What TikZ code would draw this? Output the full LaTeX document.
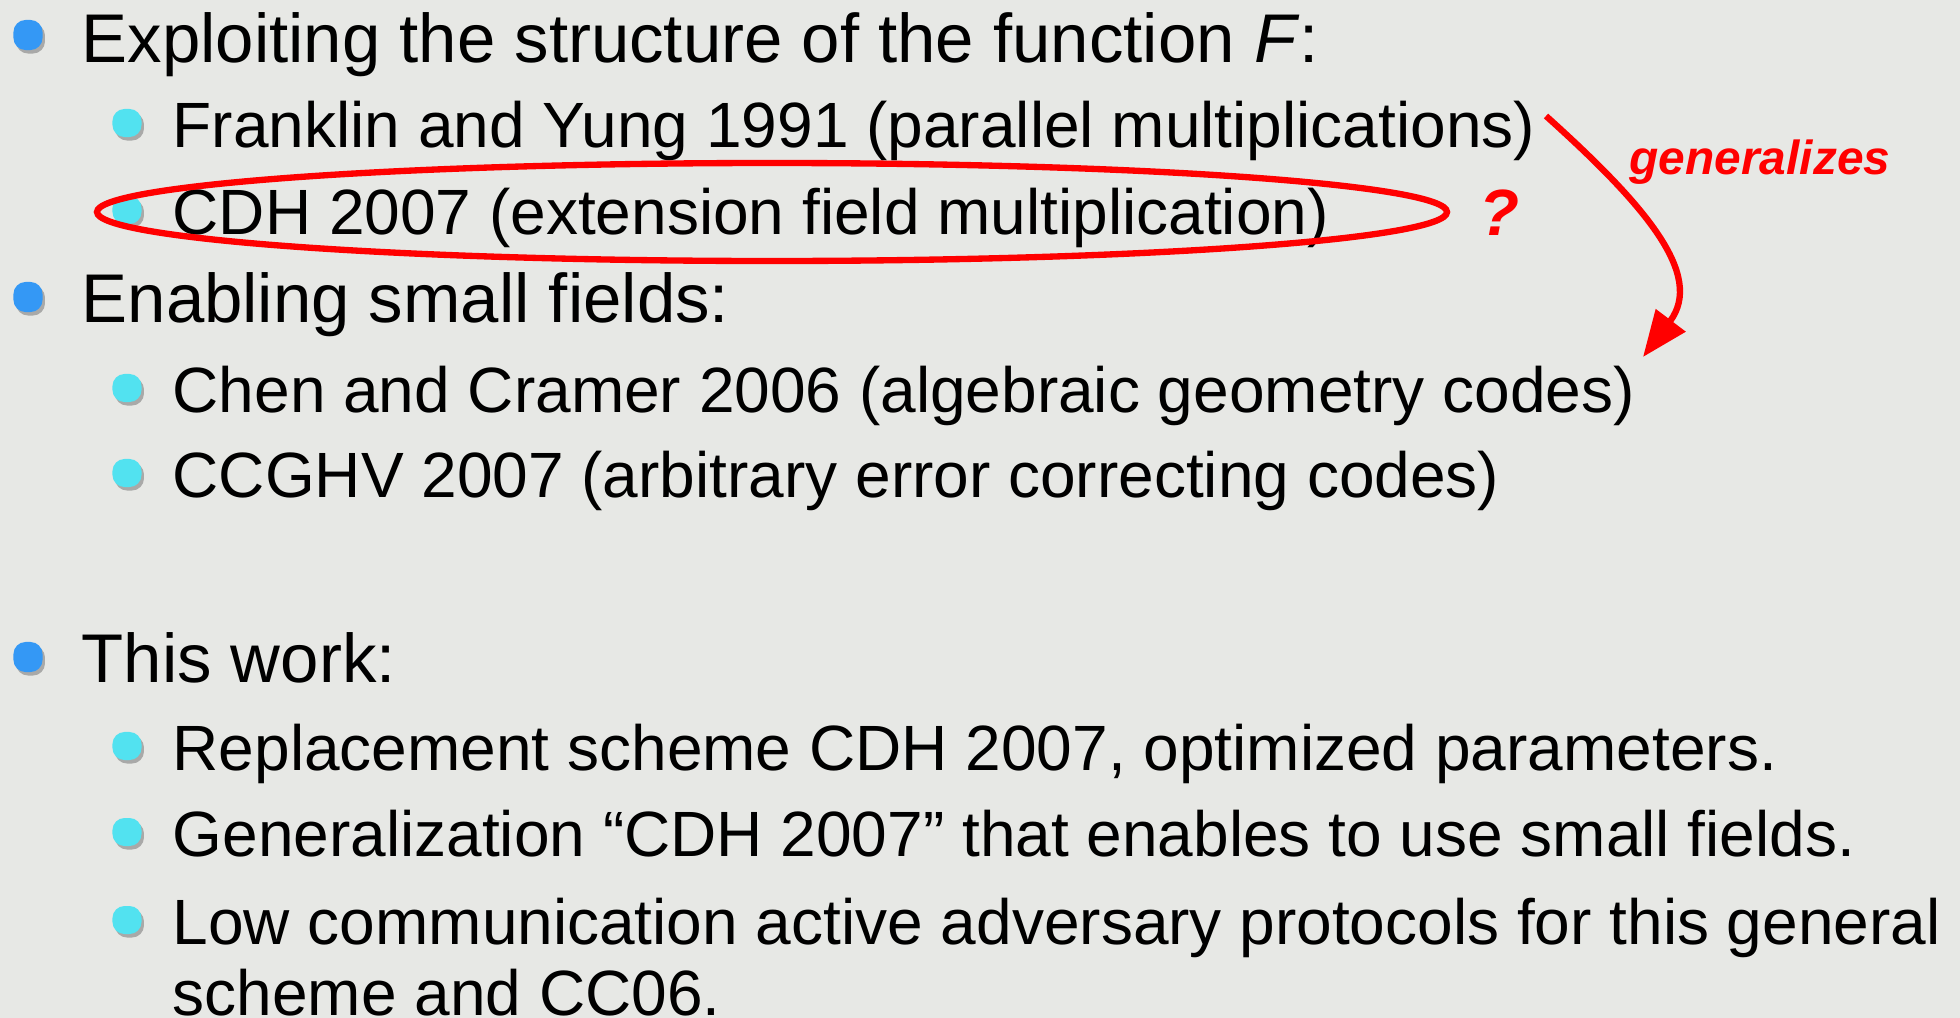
\documentclass[tikz,border=0pt]{standalone}
\usepackage{fontspec}
\setmainfont{Liberation Sans}
\usetikzlibrary{arrows.meta,positioning,shadows}
\definecolor{slidebg}{RGB}{231,232,229}
\definecolor{bulblue}{RGB}{52,152,245}
\definecolor{bulcyan}{RGB}{82,226,240}
\definecolor{markred}{RGB}{255,0,0}

\begin{document}
\begin{tikzpicture}[x=0.01cm, y=-0.01cm,
    lvlone/.style={anchor=base west, inner sep=0pt, font=\fontsize{19.6}{22}\selectfont},
    lvltwo/.style={anchor=base west, inner sep=0pt, font=\fontsize{18.2}{20.2}\selectfont},
    bulone/.style={rounded corners=0.12cm, fill=bulblue, minimum width=0.29cm, minimum height=0.30cm, inner sep=0pt,
      drop shadow={shadow xshift=0.7pt, shadow yshift=-1pt, opacity=0.6}},
    bultwo/.style={rounded corners=0.12cm, fill=bulcyan, minimum width=0.29cm, minimum height=0.28cm, inner sep=0pt,
      drop shadow={shadow xshift=0.7pt, shadow yshift=-1pt, opacity=0.6}},
    remark/.style={text=markred, inner sep=0pt, font=\bfseries\itshape},
    redline/.style={draw=markred, line width=1.8pt}]
  % slide background
  \fill[slidebg] (0,0) rectangle (1960,1018);
  \useasboundingbox (0,0) rectangle (1960,1018);

  % Known approaches
  \node[bulone] (b1) at (28,35) {};
  \node[lvlone] (struct) at (81,62) {Exploiting the structure of the function \textit{F}:};
  \node[bultwo] (b11) at (127,123) {};
  \node[lvltwo] (fy) at (172,147) {Franklin and Yung 1991 (parallel multiplications)};
  \node[bultwo] (b12) at (127,210) {};
  \node[lvltwo] (cdh) at (172,234) {CDH 2007 (extension field multiplication)};

  \node[bulone] (b2) at (28,297) {};
  \node[lvlone] (small) at (81,322) {Enabling small fields:};
  \node[bultwo] (b21) at (127,388) {};
  \node[lvltwo] (cc) at (172,412) {Chen and Cramer 2006 (algebraic geometry codes)};
  \node[bultwo] (b22) at (127,473) {};
  \node[lvltwo] (ccghv) at (172,497) {CCGHV 2007 (arbitrary error correcting codes)};

  % Contribution
  \node[bulone] (b3) at (28,657) {};
  \node[lvlone] (work) at (81,682) {This work:};
  \node[bultwo] (b31) at (127,746) {};
  \node[lvltwo] (repl) at (172,770) {Replacement scheme CDH 2007, optimized parameters.};
  \node[bultwo] (b32) at (127,832) {};
  \node[lvltwo] (gen) at (172,856) {Generalization “CDH 2007” that enables to use small fields.};
  \node[bultwo] (b33) at (127,920) {};
  \node[lvltwo] (low) at (172,944) {Low communication active adversary protocols for this general};
  \node[lvltwo] (lowb) at (172,1015) {scheme and CC06.};

  % Annotations
  \draw[redline] (772,212) ellipse [x radius=675, y radius=49];
  \node[remark, font=\fontsize{18.6}{20}\selectfont\bfseries\itshape, anchor=base west] (qm) at (1479,235) {?};
  \node[remark, font=\fontsize{13.6}{16}\selectfont\bfseries\itshape, anchor=base west] (genz) at (1629,174) {generalizes};
  \coordinate (from) at (1546,116);
  \coordinate (to) at (1643,357);
  \draw[redline, -{Triangle[length=0.46cm, width=0.36cm]}]
    (from) .. controls (1645,205) and (1705,275) .. (to);
\end{tikzpicture}
\end{document}
